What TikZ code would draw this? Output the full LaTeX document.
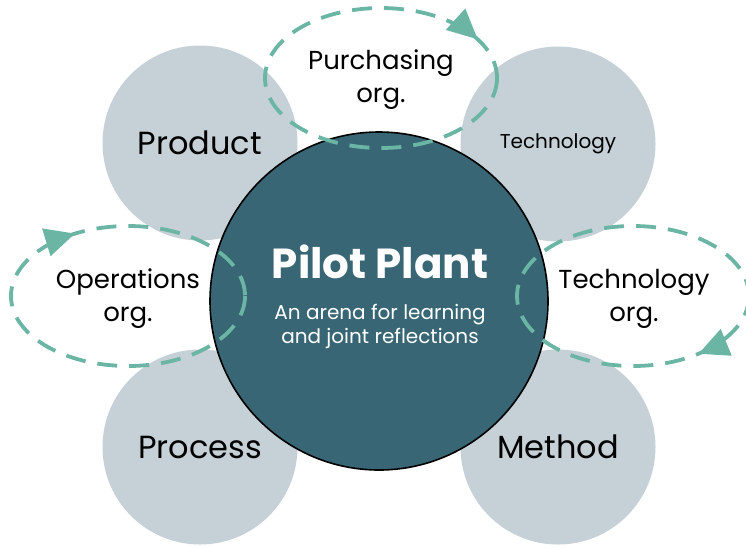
\documentclass[tikz,border=0pt]{standalone}
\usepackage{fontspec}
\setmainfont{Poppins}
\usetikzlibrary{arrows.meta,decorations.markings}
\definecolor{hubteal}{HTML}{386674}
\definecolor{petalgrey}{HTML}{C5D1D6}
\definecolor{loopgreen}{HTML}{6BB5A5}

\begin{document}
\begin{tikzpicture}[x=1pt,y=-1pt,
  petal/.style={circle,fill=petalgrey,minimum size=195pt,inner sep=0pt,font=\fontsize{32}{40}\selectfont},
  hub/.style={circle,draw=black,line width=1.6pt,fill=hubteal,minimum size=338pt,inner sep=0pt},
  orgloop/.style={draw=loopgreen,line width=3.8pt,dash pattern=on 20pt off 12pt,
    postaction={decorate},decoration={markings,mark=at position #1 with {\arrow[loopgreen]{Triangle[length=30pt,width=28pt]}}}},
  looptext/.style={align=center,font=\fontsize{26}{33}\selectfont}]
\useasboundingbox (0,0) rectangle (746,547);
\node[petal] (product) at (200,143) {Product};
\node[petal,font=\fontsize{20}{22}\selectfont] (technology) at (558,144) {Technology};
\node[petal] (process) at (200,447) {Process};
\node[petal] (method) at (558,447) {Method};
\node[hub] (pilot) at (379,301) {};

\draw[orgloop=0.925] (381,78) ellipse (116 and 70);
\draw[orgloop=0.66] (128,296) ellipse (117 and 70);
\draw[orgloop=0.137] (633,296) ellipse (116 and 70);

\node[looptext] (purchasing) at (381,80) {Purchasing\\org.};
\node[looptext] (operations) at (128,299) {Operations\\org.};
\node[looptext] (techorg) at (634,299) {Technology\\org.};

\node[text=white,font=\fontsize{42}{50}\selectfont\bfseries] (title) at (380,262) {Pilot Plant};
\node[text=white,align=center,font=\fontsize{20}{24}\selectfont] (tagline) at (380,326) {An arena for learning\\and joint reflections};
\end{tikzpicture}
\end{document}
